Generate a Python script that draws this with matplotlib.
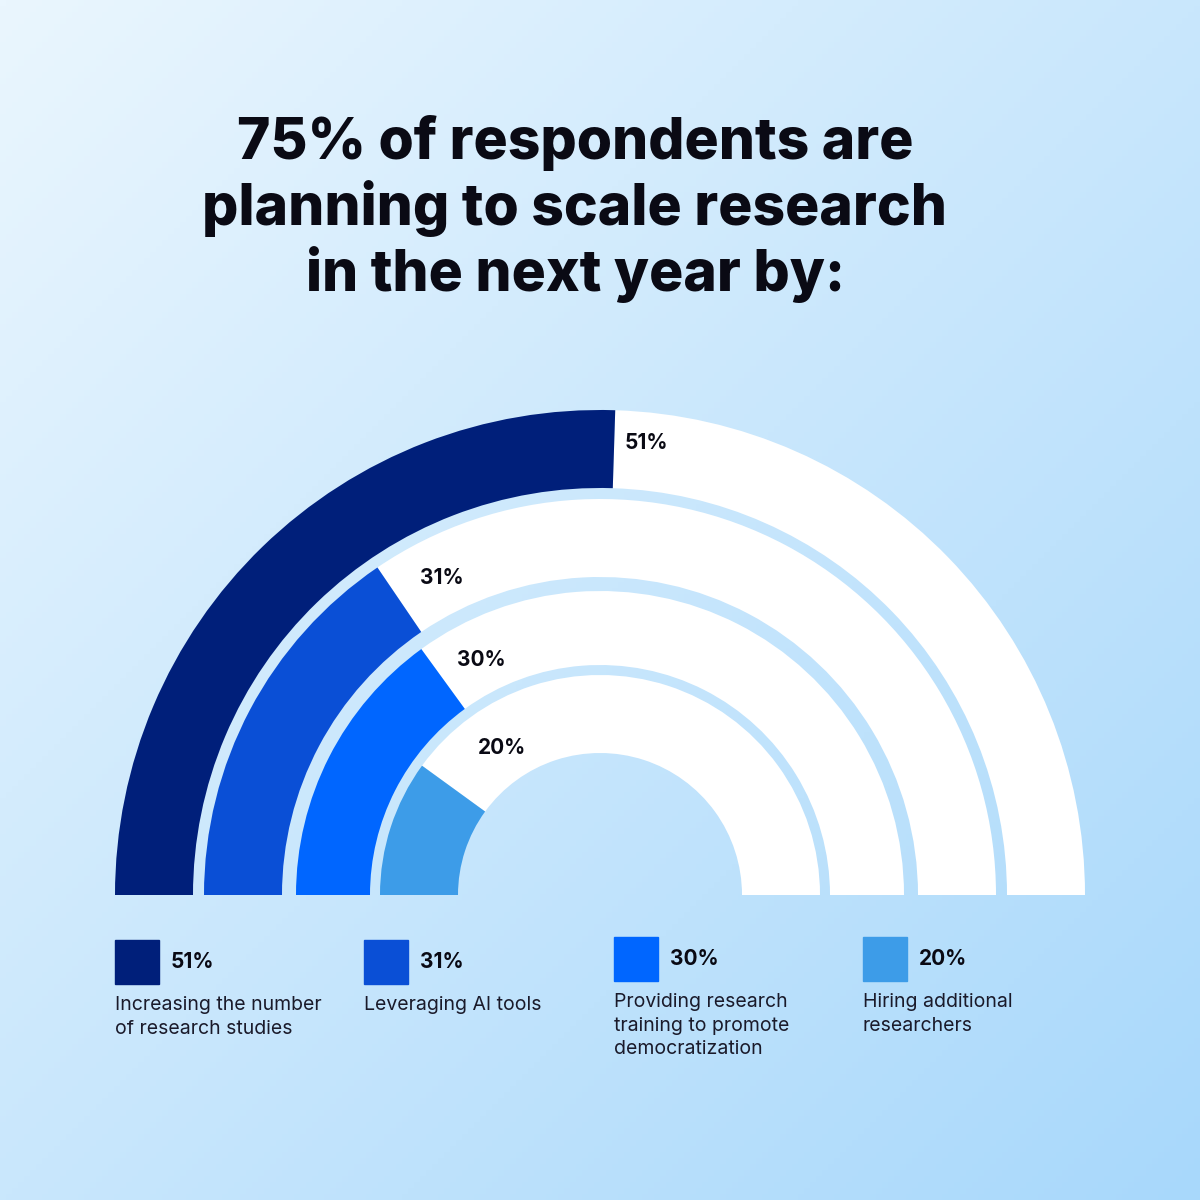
import numpy as np
import matplotlib
matplotlib.use("Agg")
import matplotlib.pyplot as plt
from matplotlib.patches import Wedge, Rectangle

plt.rcParams['font.family'] = ['Inter', 'DejaVu Sans']

values = [51, 31, 30, 20]
labels = ["Increasing the number\nof research studies", "Leveraging AI tools",
          "Providing research\ntraining to promote\ndemocratization", "Hiring additional\nresearchers"]
colors = ["#001f7a", "#0a4fd6", "#0066ff", "#3d9ce8"]
radii = [(407, 485), (318, 396), (230, 304), (142, 220)]
label_pos = [(625, 757), (420, 622), (457, 540), (478, 452)]
legend_x = [115, 364, 614, 863]
legend_top = [940, 940, 937, 937]

fig = plt.figure(figsize=(12, 12), dpi=100)
ax = fig.add_axes([0, 0, 1, 1])

# background gradient, light top-left to darker bottom-right
xx, yy = np.meshgrid(np.linspace(0, 1, 200), np.linspace(0, 1, 200))
t = (xx + yy) / 2
c0 = np.array([0xea, 0xf6, 0xfe]) / 255
c1 = np.array([0xa8, 0xd8, 0xfb]) / 255
grad = c0[None, None, :] * (1 - t[..., None]) + c1[None, None, :] * t[..., None]
ax.imshow(grad, extent=[0, 1200, 0, 1200], origin='upper', zorder=0, aspect='auto')
ax.set_xlim(0, 1200)
ax.set_ylim(0, 1200)
ax.axis('off')

cx, cy = 600, 305
for v, c, (r0, r1), (lx, ly) in zip(values, colors, radii, label_pos):
    split = 180 - v / 100 * 180
    ax.add_patch(Wedge((cx, cy), r1, 0, split, width=r1 - r0, color="white", zorder=2, lw=0))
    ax.add_patch(Wedge((cx, cy), r1, split, 180, width=r1 - r0, color=c, zorder=2, lw=0))
    ax.text(lx, ly, f"{v}%", fontsize=15, fontweight='bold', color='#0a0a14', va='center', zorder=3)

title = "75% of respondents are\nplanning to scale research\nin the next year by:"
ax.text(575, 1085, title, fontsize=41, fontweight='heavy', ha='center', va='top',
        linespacing=1.2, color='#0a0a14')

for x, top, v, c, lab in zip(legend_x, legend_top, values, colors, labels):
    ax.add_patch(Rectangle((x, 1200 - top - 44), 44, 44, color=c, zorder=3))
    ax.text(x + 56, 1200 - top - 22, f"{v}%", fontsize=15, fontweight='bold',
            va='center', color='#0a0a14')
    ax.text(x, 1200 - top - 56, lab, fontsize=14, va='top', linespacing=1.4, color='#1a1a2a')

fig.savefig("out.png", dpi=100)
